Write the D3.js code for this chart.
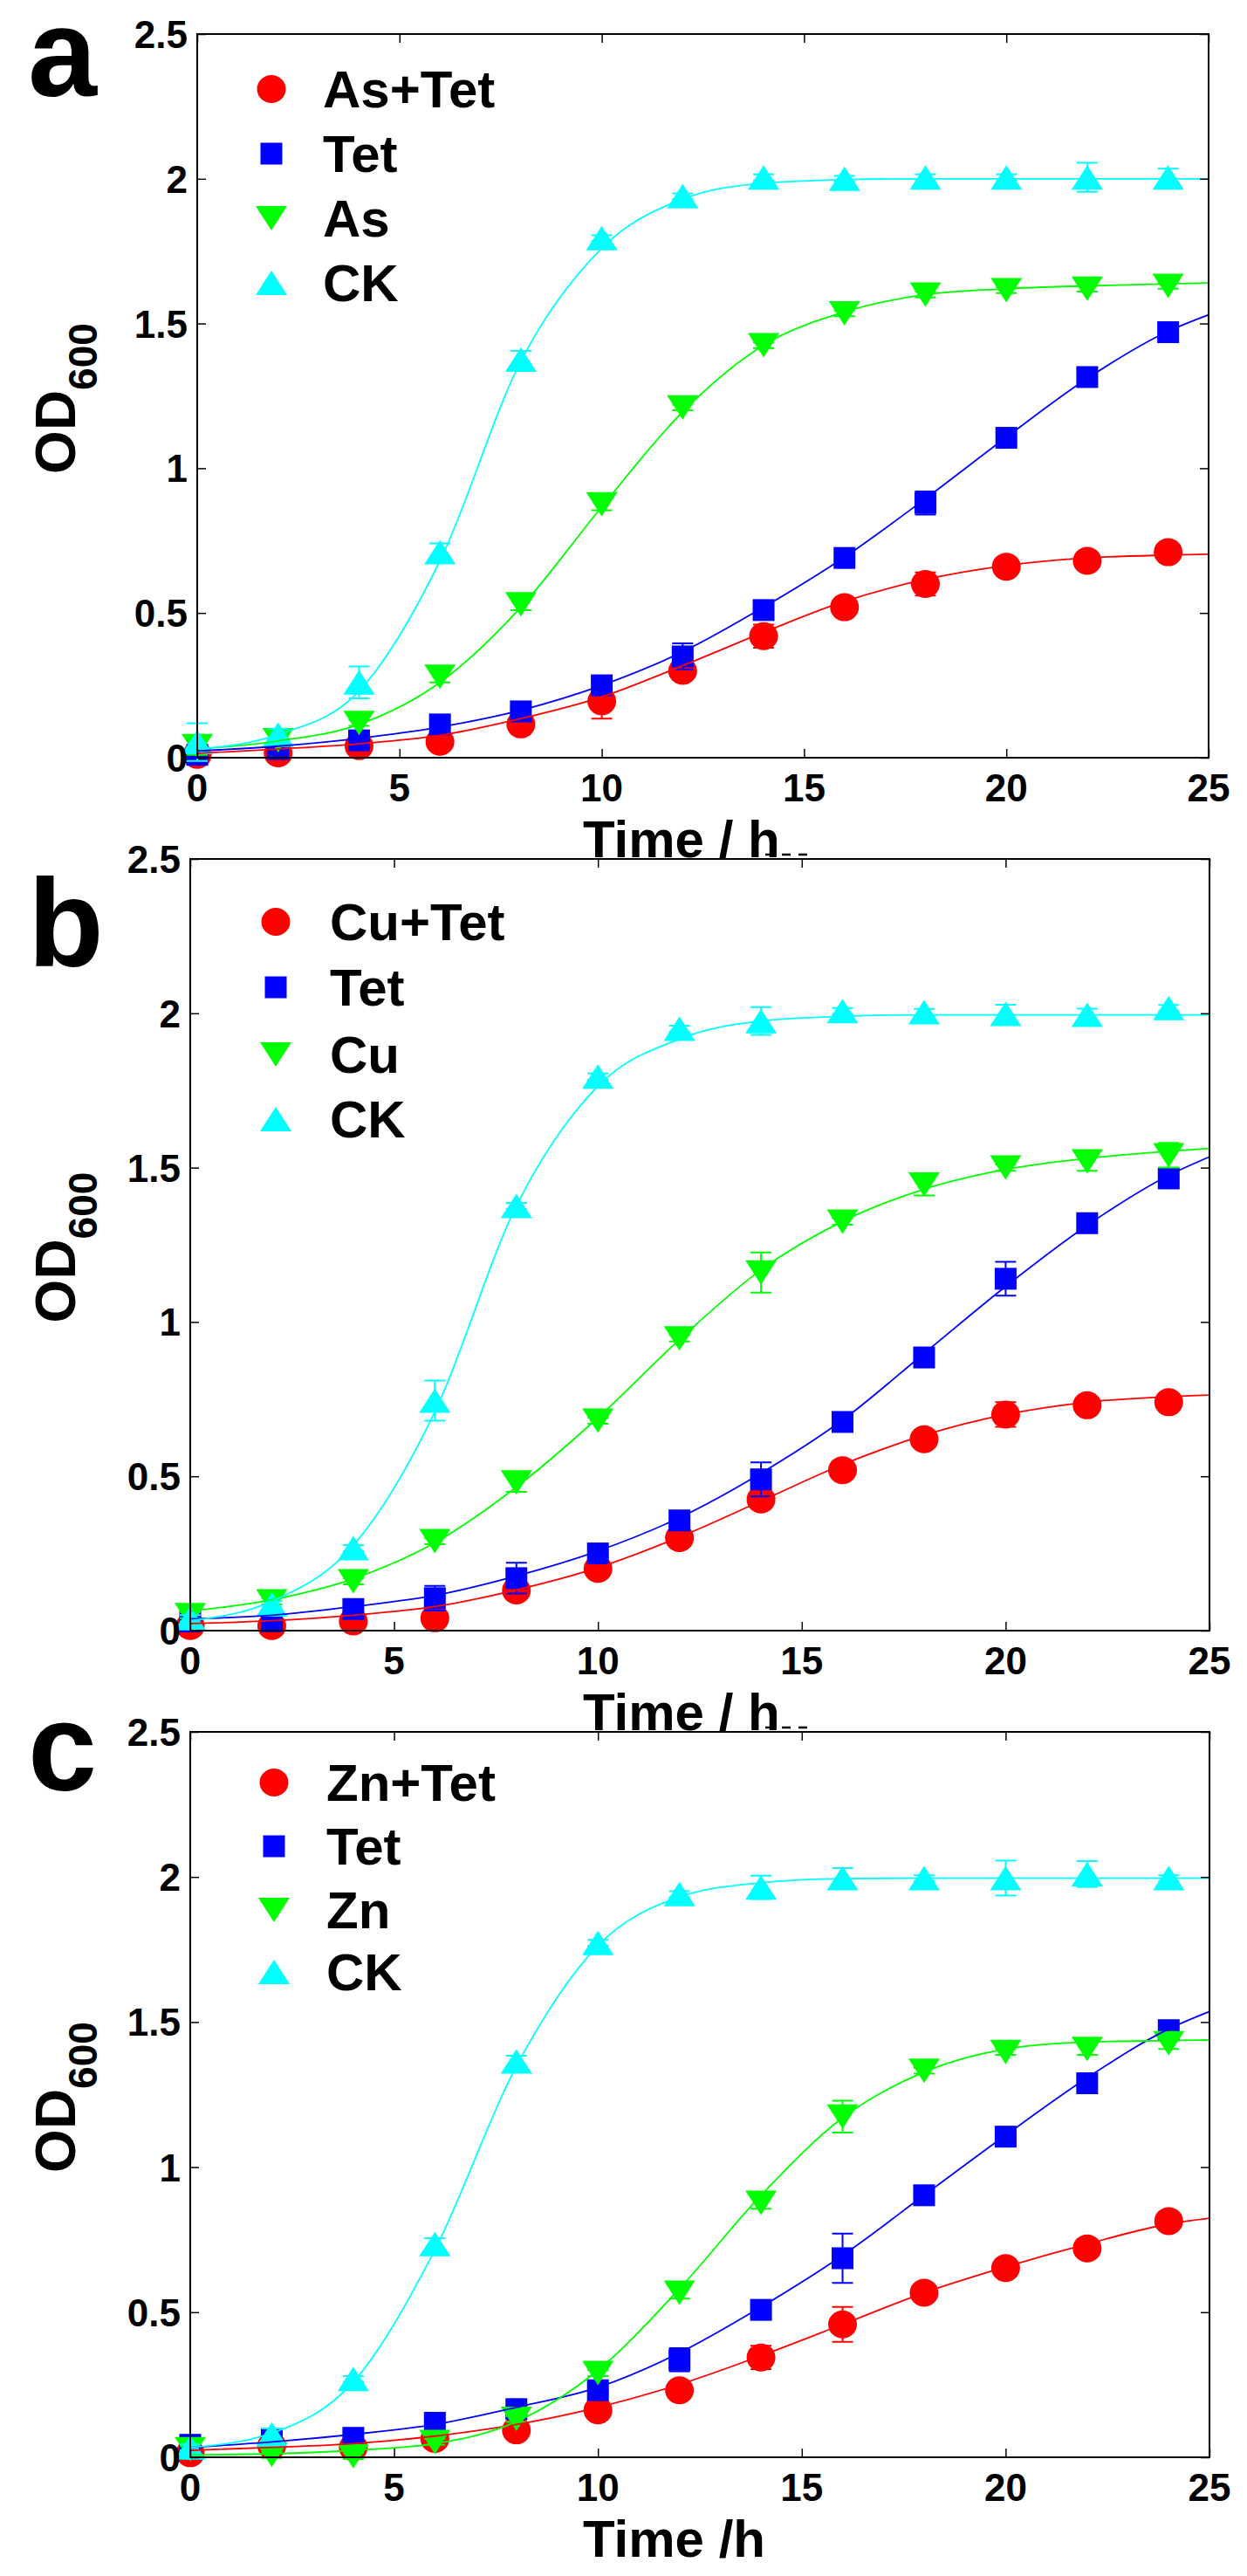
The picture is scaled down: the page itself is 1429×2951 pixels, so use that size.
<!DOCTYPE html>
<html>
<head>
<meta charset="utf-8">
<script src="https://cdn.jsdelivr.net/npm/d3@7"></script>
<style>
  body { margin: 0; background: #fff; }
  svg { display: block; font-family: "Liberation Sans", Arial, sans-serif; font-weight: bold; }
</style>
</head>
<body>
<svg width="1429" height="2951"></svg>
<script>
// sampling times (h) and the points the fitted curves were read at
var hours = [0, 2, 4, 6, 8, 10, 12, 14, 16, 18, 20, 22, 24];
var fitHours = [0, 2, 4, 6, 8, 10, 12, 14, 16, 18, 20, 22, 24, 25];
var xTicks = [0, 5, 10, 15, 20, 25];
var yTicks = [0, 0.5, 1, 1.5, 2, 2.5];
var yTickLabels = ['0', '0.5', '1', '1.5', '2', '2.5'];

// panel a
var aAsTet    = [0.01, 0.015, 0.04, 0.055, 0.115, 0.195, 0.30, 0.42, 0.52, 0.60, 0.66, 0.68, 0.71];
var aAsTetErr = [0.01, 0.01, 0.01, 0.01, 0.02, 0.06, 0.03, 0.04, 0.02, 0.04, 0.02, 0.02, 0.02];
var aAsTetFit = [0.015, 0.03, 0.048, 0.077, 0.135, 0.21, 0.318, 0.433, 0.54, 0.616, 0.664, 0.69, 0.70, 0.703];
var aTet      = [0.01, 0.03, 0.06, 0.115, 0.16, 0.25, 0.35, 0.51, 0.69, 0.88, 1.105, 1.315, 1.47];
var aTetErr   = [0.01, 0.01, 0.02, 0.01, 0.01, 0.01, 0.045, 0.01, 0.01, 0.04, 0.01, 0.01, 0.01];
var aTetFit   = [0.023, 0.04, 0.067, 0.106, 0.164, 0.25, 0.366, 0.52, 0.693, 0.895, 1.107, 1.31, 1.473, 1.53];
var aAs       = [0.04, 0.06, 0.12, 0.28, 0.53, 0.875, 1.21, 1.425, 1.535, 1.60, 1.615, 1.62, 1.63];
var aAsErr    = [0.03, 0.02, 0.01, 0.02, 0.02, 0.02, 0.01, 0.01, 0.01, 0.01, 0.01, 0.01, 0.01];
var aAsFit    = [0.03, 0.058, 0.115, 0.26, 0.52, 0.867, 1.195, 1.425, 1.54, 1.60, 1.62, 1.63, 1.637, 1.64];
var aCK       = [0.054, 0.08, 0.26, 0.71, 1.375, 1.795, 1.94, 2.005, 2.0, 2.005, 2.005, 2.005, 2.005];
var aCKErr    = [0.065, 0.02, 0.055, 0.03, 0.03, 0.01, 0.01, 0.01, 0.01, 0.01, 0.01, 0.05, 0.03];
var aCKFit    = [0.03, 0.08, 0.23, 0.68, 1.37, 1.76, 1.93, 1.985, 1.997, 2.0, 2.0, 2.0, 2.0, 2.0];

// panel b
var bCuTet    = [0.015, 0.015, 0.03, 0.04, 0.13, 0.20, 0.30, 0.425, 0.52, 0.62, 0.70, 0.73, 0.74];
var bCuTetErr = [0.01, 0.01, 0.01, 0.01, 0.02, 0.02, 0.02, 0.03, 0.02, 0.02, 0.04, 0.02, 0.02];
var bCuTetFit = [0.023, 0.032, 0.05, 0.078, 0.132, 0.204, 0.303, 0.42, 0.538, 0.633, 0.70, 0.74, 0.758, 0.763];
var bTet      = [0.03, 0.03, 0.07, 0.105, 0.17, 0.25, 0.357, 0.49, 0.676, 0.885, 1.14, 1.32, 1.465];
var bTetErr   = [0.01, 0.01, 0.01, 0.04, 0.05, 0.01, 0.02, 0.055, 0.01, 0.01, 0.055, 0.01, 0.01];
var bTetFit   = [0.038, 0.05, 0.078, 0.114, 0.177, 0.258, 0.366, 0.51, 0.682, 0.898, 1.115, 1.313, 1.475, 1.535];
var bCu       = [0.05, 0.095, 0.16, 0.29, 0.48, 0.68, 0.947, 1.16, 1.325, 1.445, 1.50, 1.52, 1.54];
var bCuErr    = [0.01, 0.01, 0.01, 0.01, 0.03, 0.01, 0.01, 0.065, 0.01, 0.035, 0.01, 0.03, 0.04];
var bCuFit    = [0.063, 0.10, 0.168, 0.285, 0.465, 0.69, 0.943, 1.169, 1.326, 1.43, 1.494, 1.53, 1.553, 1.562];
var bCK       = [0.04, 0.085, 0.267, 0.745, 1.376, 1.795, 1.95, 1.975, 2.007, 2.004, 1.998, 1.995, 2.017];
var bCKErr    = [0.01, 0.01, 0.01, 0.065, 0.01, 0.01, 0.01, 0.045, 0.01, 0.01, 0.03, 0.02, 0.01];
var bCKFit    = [0.032, 0.095, 0.276, 0.709, 1.376, 1.764, 1.917, 1.975, 1.99, 1.995, 1.995, 1.995, 1.995, 1.995];

// panel c
var cZnTet    = [0.014, 0.04, 0.034, 0.063, 0.093, 0.162, 0.231, 0.344, 0.458, 0.567, 0.652, 0.72, 0.814];
var cZnTetErr = [0.01, 0.01, 0.01, 0.01, 0.01, 0.01, 0.01, 0.04, 0.06, 0.01, 0.01, 0.01, 0.01];
var cZnTetFit = [0.024, 0.034, 0.047, 0.073, 0.113, 0.172, 0.251, 0.35, 0.458, 0.567, 0.656, 0.735, 0.804, 0.824];
var cTet      = [0.043, 0.063, 0.067, 0.119, 0.166, 0.231, 0.336, 0.508, 0.686, 0.903, 1.105, 1.289, 1.472];
var cTetErr   = [0.01, 0.01, 0.01, 0.01, 0.01, 0.01, 0.04, 0.01, 0.085, 0.01, 0.01, 0.01, 0.01];
var cTetFit   = [0.034, 0.053, 0.079, 0.113, 0.172, 0.241, 0.36, 0.518, 0.696, 0.903, 1.11, 1.308, 1.476, 1.536];
var cZn       = [0.028, 0.008, 0.004, 0.053, 0.132, 0.29, 0.567, 0.877, 1.174, 1.332, 1.397, 1.407, 1.427];
var cZnErr    = [0.01, 0.01, 0.01, 0.01, 0.01, 0.01, 0.02, 0.02, 0.055, 0.01, 0.01, 0.02, 0.02];
var cZnFit    = [0.008, 0.012, 0.024, 0.047, 0.123, 0.30, 0.581, 0.903, 1.17, 1.328, 1.407, 1.431, 1.436, 1.438];
var cCK       = [0.034, 0.079, 0.27, 0.735, 1.364, 1.773, 1.941, 1.964, 1.996, 1.996, 1.996, 2.01, 1.996];
var cCKErr    = [0.01, 0.02, 0.01, 0.02, 0.02, 0.01, 0.01, 0.04, 0.035, 0.01, 0.06, 0.045, 0.01];
var cCKFit    = [0.034, 0.083, 0.26, 0.715, 1.348, 1.763, 1.931, 1.98, 1.994, 1.996, 1.996, 1.996, 1.996, 1.996];

(function (d3) {
  var svg = d3.select('svg');
  var colors = ['#ff0000', '#0000ff', '#00ff00', '#00ffff'];
  var shapes = ['circle', 'square', 'down', 'up'];

  var panels = [
    { letter: 'a', letterY: 110, left: 226, right: 1385, top: 39, bottom: 868,
      legX: 311, legTextX: 370, legY: [102, 176, 250, 324], xLabel: 'Time / h', dashes: true,
      names: ['As+Tet', 'Tet', 'As', 'CK'],
      values: [aAsTet, aTet, aAs, aCK], errs: [aAsTetErr, aTetErr, aAsErr, aCKErr],
      fits: [aAsTetFit, aTetFit, aAsFit, aCKFit] },
    { letter: 'b', letterY: 1107, left: 218, right: 1386, top: 984, bottom: 1868,
      legX: 316, legTextX: 378, legY: [1056, 1131, 1208, 1282], xLabel: 'Time / h', dashes: true,
      names: ['Cu+Tet', 'Tet', 'Cu', 'CK'],
      values: [bCuTet, bTet, bCu, bCK], errs: [bCuTetErr, bTetErr, bCuErr, bCKErr],
      fits: [bCuTetFit, bTetFit, bCuFit, bCKFit] },
    { letter: 'c', letterY: 2051, left: 218, right: 1386, top: 1984, bottom: 2815,
      legX: 314, legTextX: 374, legY: [2042, 2115, 2188, 2259], xLabel: 'Time /h', dashes: false,
      names: ['Zn+Tet', 'Tet', 'Zn', 'CK'],
      values: [cZnTet, cTet, cZn, cCK], errs: [cZnTetErr, cTetErr, cZnErr, cCKErr],
      fits: [cZnTetFit, cTetFit, cZnFit, cCKFit] }
  ];

  function marker(g, shape, cx, cy, color) {
    if (shape === 'circle') {
      g.append('ellipse').attr('cx', cx).attr('cy', cy).attr('rx', 16.5).attr('ry', 16).style('fill', color);
    } else if (shape === 'square') {
      g.append('rect').attr('x', cx - 12.5).attr('y', cy - 12.5).attr('width', 25).attr('height', 25).style('fill', color);
    } else {
      var w = 18, h = 14;
      var p = shape === 'up'
        ? [[cx - w, cy + h], [cx + w, cy + h], [cx, cy - h]]
        : [[cx - w, cy - h], [cx + w, cy - h], [cx, cy + h]];
      g.append('path').attr('d', 'M' + p.join('L') + 'Z').style('fill', color);
    }
  }

  panels.forEach(function (p) {
    var x = d3.scaleLinear().domain([0, 25]).range([p.left, p.right]);
    var y = d3.scaleLinear().domain([0, 2.5]).range([p.bottom, p.top]);
    var g = svg.append('g');

    // white plot area (it hides the bottom of the label above)
    g.append('rect')
       .attr('x', p.left).attr('y', p.top)
       .attr('width', p.right - p.left).attr('height', p.bottom - p.top)
       .style('fill', 'white');

    // markers and error bars
    p.values.forEach(function (vals, s) {
      var ms = g.append('g');
      vals.forEach(function (v, i) {
        var e = p.errs[s][i], cx = x(hours[i]);
        ms.append('path')
           .attr('d', 'M' + cx + ',' + y(v - e) + 'V' + y(v + e) +
                      'M' + (cx - 12) + ',' + y(v - e) + 'H' + (cx + 12) +
                      'M' + (cx - 12) + ',' + y(v + e) + 'H' + (cx + 12))
           .style('stroke', colors[s]).style('stroke-width', 2).style('fill', 'none');
        marker(ms, shapes[s], cx, y(v), colors[s]);
      });
    });

    // fitted curves
    var line = d3.line()
       .x(function (d, i) { return x(fitHours[i]); })
       .y(function (d) { return y(d); })
       .curve(d3.curveMonotoneX);
    p.fits.forEach(function (f, s) {
      g.append('path').attr('d', line(f))
         .style('fill', 'none').style('stroke', colors[s]).style('stroke-width', 1.8);
    });

    // box with inward ticks on all sides
    g.append('rect')
       .attr('x', p.left).attr('y', p.top)
       .attr('width', p.right - p.left).attr('height', p.bottom - p.top)
       .style('fill', 'none').style('stroke', 'black').style('stroke-width', 2);
    g.append('g').attr('transform', 'translate(0,' + p.bottom + ')')
       .call(d3.axisTop(x).tickValues(xTicks).tickSize(10).tickFormat(''));
    g.append('g').attr('transform', 'translate(0,' + p.top + ')')
       .call(d3.axisBottom(x).tickValues(xTicks).tickSize(10).tickFormat(''));
    g.append('g').attr('transform', 'translate(' + p.left + ',0)')
       .call(d3.axisRight(y).tickValues(yTicks).tickSize(10).tickFormat(''));
    g.append('g').attr('transform', 'translate(' + p.right + ',0)')
       .call(d3.axisLeft(y).tickValues(yTicks).tickSize(10).tickFormat(''));
    g.selectAll('.domain').remove();
    g.selectAll('.tick line').style('stroke', 'black').style('stroke-width', 1.5);

    // tick labels
    xTicks.forEach(function (t) {
      g.append('text').attr('x', x(t)).attr('y', p.bottom + 50)
         .attr('text-anchor', 'middle').attr('font-size', '44px').text(t);
    });
    yTicks.forEach(function (t, i) {
      g.append('text').attr('x', p.left - 11).attr('y', y(t) + 16)
         .attr('text-anchor', 'end').attr('font-size', '44px').text(yTickLabels[i]);
    });

    // legend
    p.names.forEach(function (n, s) {
      marker(g, shapes[s], p.legX, p.legY[s], colors[s]);
      g.append('text').attr('x', p.legTextX).attr('y', p.legY[s] + 21)
         .attr('font-size', '60px').text(n);
    });

    // axis titles
    var yl = g.append('text')
       .attr('transform', 'translate(86,' + ((p.top + p.bottom) / 2 + 3) + ') rotate(-90)')
       .attr('text-anchor', 'middle')
       .attr('font-size', '64px');
    yl.append('tspan').text('OD');
    yl.append('tspan').attr('font-size', '46px').attr('dy', 25).text('600');

    g.append('text').attr('x', 668).attr('y', p.bottom + 114)
       .attr('font-size', '60px').text(p.xLabel);
    if (p.dashes) {
      // small dashes left after the h in the original figure
      g.append('line')
         .attr('x1', 877).attr('x2', 926)
         .attr('y1', p.bottom + 111).attr('y2', p.bottom + 111)
         .style('stroke', 'black').style('stroke-width', 2.5)
         .style('stroke-dasharray', '10,9');
    }

    g.append('text').attr('x', 32).attr('y', p.letterY)
       .attr('font-size', '142px').text(p.letter);
  });
})(d3);
</script>
</body>
</html>
